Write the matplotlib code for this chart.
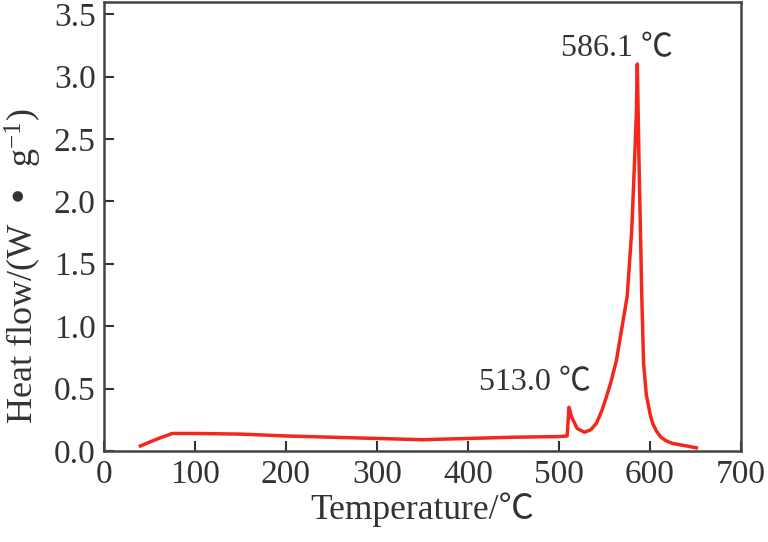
import numpy as np
import matplotlib
matplotlib.use("Agg")
import matplotlib.pyplot as plt

plt.rcParams['font.family'] = ['Liberation Serif', 'Noto Sans CJK SC', 'DejaVu Serif']
plt.rcParams['mathtext.default'] = 'regular'

temp = [40, 50, 60, 75, 100, 150, 200, 250, 300, 350, 400, 450, 500, 509,
        511, 514, 520, 528, 535, 541, 547, 552, 557, 563, 569, 575, 580, 583,
        585, 586.1, 588, 590, 591, 593, 596, 600, 603, 607, 612, 618, 625,
        640, 651]
heat = [0.04, 0.07, 0.10, 0.14, 0.14, 0.135, 0.12, 0.11, 0.10, 0.09, 0.10,
        0.11, 0.115, 0.12, 0.35, 0.27, 0.18, 0.15, 0.17, 0.22, 0.32, 0.43,
        0.55, 0.72, 0.98, 1.24, 1.77, 2.31, 2.7, 3.1, 2.3, 1.6, 1.24, 0.7,
        0.45, 0.3, 0.22, 0.16, 0.11, 0.08, 0.06, 0.04, 0.025]

peaks = [(564, 3.22, "586.1 \u2103"), (474, 0.55, "513.0 \u2103")]

fig = plt.figure(figsize=(7.68, 5.42), dpi=100)
ax = fig.add_axes([0.1354, 0.168, 0.8294, 0.829])

ax.plot(temp, heat, color='#f4271c', lw=2.5)

for x, y, s in peaks:
    ax.text(x, y, s, ha='center', va='center', fontsize=23, color='#333333')

ax.set_xlim(0, 700)
ax.set_ylim(0, 3.6)
ax.set_xticks(np.arange(0, 701, 100))
ax.set_yticks(np.arange(0, 3.51, 0.5))
ax.set_yticklabels(["%.1f" % v for v in np.arange(0, 3.51, 0.5)])
ax.tick_params(direction='in', length=7, width=1.5, labelsize=24,
               colors='#333333', pad=6)
for sp in ax.spines.values():
    sp.set_linewidth(1.8)
    sp.set_color('#444444')

ax.set_xlabel("Temperature/\u2103", fontsize=25.5, color='#333333', labelpad=2)
ax.set_ylabel("Heat flow/(W  \u2022  g$^{-1}$)", fontsize=26, color='#333333')
ax.yaxis.set_label_coords(-0.094, 0.41)

fig.savefig("out.png", dpi=100)
